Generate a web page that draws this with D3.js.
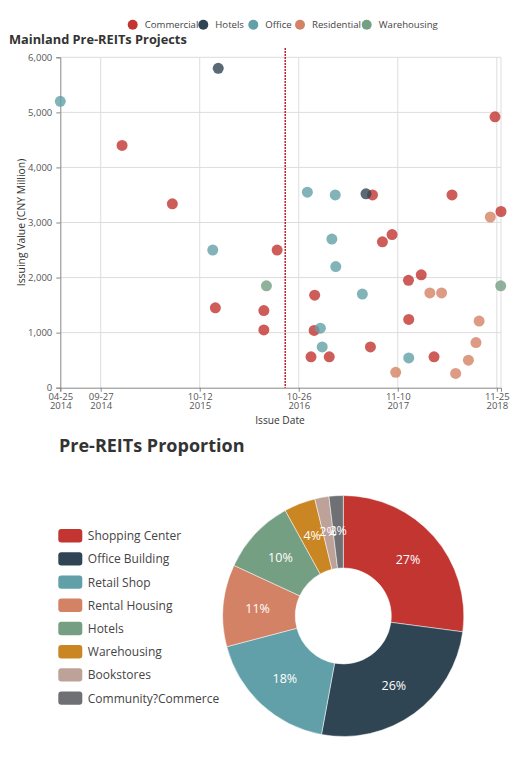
<!DOCTYPE html>
<html>
<head>
<meta charset="utf-8">
<script src="https://cdn.jsdelivr.net/npm/d3@7/dist/d3.min.js"></script>
<style>
  body { margin: 0; background: #fff; }
  text { font-family: "Open Sans", "Noto Sans", sans-serif; }
</style>
</head>
<body>
<div id="chart"></div>
<script>
// ---- data ----
var types = ["Commercial", "Hotels", "Office", "Residential", "Warehousing"];
var typeColors = ["#c23531", "#2f4554", "#61a0a8", "#d48265", "#749f83"];

// [issue date, issuing value (CNY million), type]
var projects = [
  ["2014-04-25", 5200, "Office"],
  ["2014-12-18", 4400, "Commercial"],
  ["2015-06-29", 3340, "Commercial"],
  ["2015-12-01", 2500, "Office"],
  ["2015-12-11", 1450, "Commercial"],
  ["2015-12-22", 5800, "Hotels"],
  ["2016-06-14", 1400, "Commercial"],
  ["2016-06-14", 1050, "Commercial"],
  ["2016-06-24", 1850, "Warehousing"],
  ["2016-08-04", 2500, "Commercial"],
  ["2016-11-28", 3550, "Office"],
  ["2016-12-12", 560, "Commercial"],
  ["2016-12-24", 1040, "Commercial"],
  ["2016-12-26", 1680, "Commercial"],
  ["2017-01-17", 1080, "Office"],
  ["2017-01-24", 740, "Office"],
  ["2017-02-20", 560, "Commercial"],
  ["2017-03-02", 2700, "Office"],
  ["2017-03-15", 3500, "Office"],
  ["2017-03-17", 2200, "Office"],
  ["2017-06-27", 1700, "Office"],
  ["2017-07-28", 740, "Commercial"],
  ["2017-08-05", 3500, "Commercial"],
  ["2017-07-11", 3520, "Hotels"],
  ["2017-09-12", 2650, "Commercial"],
  ["2017-10-19", 2780, "Commercial"],
  ["2017-11-02", 280, "Residential"],
  ["2017-12-21", 1950, "Commercial"],
  ["2017-12-22", 1240, "Commercial"],
  ["2017-12-22", 540, "Office"],
  ["2018-02-08", 2050, "Commercial"],
  ["2018-03-13", 1720, "Residential"],
  ["2018-03-29", 560, "Commercial"],
  ["2018-04-27", 1720, "Residential"],
  ["2018-06-06", 3500, "Commercial"],
  ["2018-06-20", 260, "Residential"],
  ["2018-08-08", 500, "Residential"],
  ["2018-09-06", 820, "Residential"],
  ["2018-09-18", 1210, "Residential"],
  ["2018-10-31", 3100, "Residential"],
  ["2018-11-18", 4920, "Commercial"],
  ["2018-12-10", 1850, "Warehousing"],
  ["2018-12-11", 3200, "Commercial"]
];

var xDomain = ["2014-04-25", "2018-12-11"];
var xTickDates = ["2014-04-25", "2014-09-27", "2015-10-12", "2016-10-26", "2017-11-10", "2018-11-25"];
var yTicks = [0, 1000, 2000, 3000, 4000, 5000, 6000];
var markDate = "2016-09-04";

var pieLabels = ["Shopping Center", "Office Building", "Retail Shop", "Rental Housing",
                 "Hotels", "Warehousing", "Bookstores", "Community?Commerce"];
var pieValues = [27.1, 25.8, 18.0, 11.0, 10.1, 4.2, 1.9, 1.9];
var pieColors = ["#c23531", "#2f4554", "#61a0a8", "#d48265", "#749f83", "#ca8622", "#bda29a", "#6e7074"];

// ---- svg ----
var svgWidth = 525;
var svgHeight = 764;

var svg = d3.select("#chart")
  .append("svg")
  .attr("width", svgWidth)
  .attr("height", svgHeight);

svg.append("rect")
  .attr("width", "100%")
  .attr("height", "100%")
  .attr("fill", "#fff");

var parseDate = d3.utcParse("%Y-%m-%d");

// ---- scatter ----
var plot = { left: 60.3, right: 501, top: 57.3, bottom: 387.7 };

var x = d3.scaleUtc()
  .domain(xDomain.map(parseDate))
  .range([plot.left, plot.right]);

var y = d3.scaleLinear()
  .domain([0, 6000])
  .range([plot.bottom, plot.top]);

var color = d3.scaleOrdinal().domain(types).range(typeColors);

// legend
var legendX = [132.7, 203.3, 253.3, 300, 366.7];
var legend = svg.append("g");
types.forEach(function(t, i) {
  legend.append("circle")
    .attr("cx", legendX[i])
    .attr("cy", 24.7)
    .attr("r", 5)
    .attr("fill", color(t));
  legend.append("text")
    .attr("x", legendX[i] + 12)
    .attr("y", 28.2)
    .style("font-size", "9.6px")
    .attr("fill", "#444")
    .text(t);
});

svg.append("text")
  .attr("x", 9)
  .attr("y", 44)
  .style("font-size", "12.8px")
  .style("font-weight", "bold")
  .attr("fill", "#333")
  .text("Mainland Pre-REITs Projects");

// grid
var grid = svg.append("g")
  .attr("stroke", "#ddd")
  .attr("stroke-width", 1);

grid.selectAll(".hg")
  .data(yTicks.slice(1))
  .enter()
  .append("line")
  .attr("x1", plot.left)
  .attr("x2", plot.right)
  .attr("y1", d => y(d))
  .attr("y2", d => y(d));

grid.selectAll(".vg")
  .data(xTickDates.slice(1).concat([xDomain[1]]))
  .enter()
  .append("line")
  .attr("x1", d => x(parseDate(d)))
  .attr("x2", d => x(parseDate(d)))
  .attr("y1", plot.top)
  .attr("y2", plot.bottom);

// axes
var yAxis = d3.axisLeft(y)
  .tickValues(yTicks)
  .tickSize(4)
  .tickPadding(4)
  .tickFormat(d3.format(","));

var yAxisG = svg.append("g")
  .attr("transform", `translate(${plot.left}, 0)`)
  .call(yAxis);

var xAxis = d3.axisBottom(x)
  .tickValues(xTickDates.map(parseDate))
  .tickSize(4);

var xAxisG = svg.append("g")
  .attr("transform", `translate(0, ${plot.bottom})`)
  .call(xAxis);
xAxisG.selectAll(".tick text").remove();

[yAxisG, xAxisG].forEach(function(g) {
  g.select(".domain").attr("stroke", "#888");
  g.selectAll(".tick line").attr("stroke", "#888");
  g.selectAll("text")
    .attr("fill", "#555")
    .style("font-size", "9.5px")
    .style("font-family", "'Open Sans', sans-serif");
});

// two-line date labels
var fmtMD = d3.utcFormat("%m-%d");
var fmtY = d3.utcFormat("%Y");
xAxisG.selectAll(".tick").each(function(d) {
  var t = d3.select(this).append("text")
    .attr("text-anchor", "middle")
    .attr("fill", "#555")
    .style("font-size", "9.5px");
  t.append("tspan").attr("x", 0).attr("y", 12.5).text(fmtMD(d));
  t.append("tspan").attr("x", 0).attr("y", 21.5).text(fmtY(d));
});

svg.append("text")
  .attr("x", 280)
  .attr("y", 424)
  .attr("text-anchor", "middle")
  .style("font-size", "10.2px")
  .attr("fill", "#333")
  .text("Issue Date");

svg.append("text")
  .attr("transform", "rotate(-90)")
  .attr("x", -222.5)
  .attr("y", 25)
  .attr("text-anchor", "middle")
  .style("font-size", "10.4px")
  .attr("fill", "#333")
  .text("Issuing Value (CNY Million)");

// mark line
svg.append("line")
  .attr("x1", x(parseDate(markDate)))
  .attr("x2", x(parseDate(markDate)))
  .attr("y1", 48)
  .attr("y2", plot.bottom)
  .attr("stroke", "#b8000f")
  .attr("stroke-width", 1.3)
  .attr("stroke-dasharray", "2,1");

// points
svg.append("g")
  .selectAll("circle")
  .data(projects)
  .enter()
  .append("circle")
  .attr("cx", d => x(parseDate(d[0])))
  .attr("cy", d => y(d[1]))
  .attr("r", 5.5)
  .attr("fill", d => color(d[2]))
  .attr("opacity", 0.8);

// ---- pie ----
svg.append("text")
  .attr("x", 59)
  .attr("y", 452)
  .style("font-size", "18px")
  .style("font-weight", "bold")
  .attr("fill", "#333")
  .text("Pre-REITs Proportion");

var pieLegend = svg.append("g")
  .selectAll("g")
  .data(pieLabels)
  .enter()
  .append("g")
  .attr("transform", (d, i) => `translate(58.3, ${535.7 + i * 23.2})`);

pieLegend.append("rect")
  .attr("x", 0)
  .attr("y", -6.7)
  .attr("width", 24)
  .attr("height", 13.4)
  .attr("rx", 3)
  .attr("fill", (d, i) => pieColors[i]);

pieLegend.append("text")
  .attr("x", 29.5)
  .attr("y", 4.5)
  .style("font-size", "12px")
  .attr("fill", "#444")
  .text(d => d);

var pie = d3.pie().sort(null).value(d => d);
var arcs = pie(pieValues);
var total = d3.sum(pieValues);

var arc = d3.arc().innerRadius(48).outerRadius(120.5);
var labelArc = d3.arc().innerRadius(86).outerRadius(86);

var pieG = svg.append("g")
  .attr("transform", "translate(343.3, 616)");

pieG.selectAll("path")
  .data(arcs)
  .enter()
  .append("path")
  .attr("d", arc)
  .attr("fill", (d, i) => pieColors[i])
  .attr("stroke", "#fff")
  .attr("stroke-width", 0.5);

pieG.selectAll(".pl")
  .data(arcs)
  .enter()
  .append("text")
  .attr("transform", d => `translate(${labelArc.centroid(d)})`)
  .attr("text-anchor", "middle")
  .attr("dy", "0.35em")
  .style("font-size", "12.5px")
  .attr("fill", "#fff")
  .text(d => Math.round(d.data / total * 100) + "%");
</script>
</body>
</html>
